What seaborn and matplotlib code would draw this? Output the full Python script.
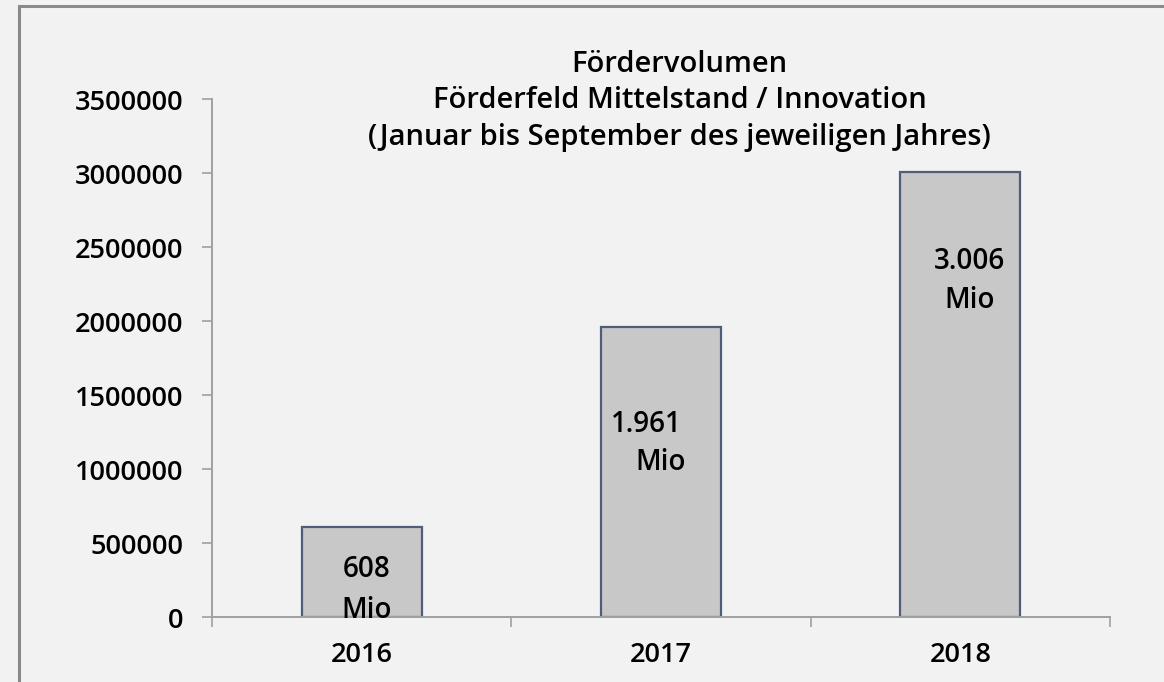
import pandas as pd
import matplotlib
matplotlib.use("Agg")
import matplotlib.pyplot as plt
import seaborn as sns
from matplotlib.patches import Rectangle
from matplotlib.ticker import FuncFormatter

# Data
years = ["2016", "2017", "2018"]
volumes = [608000, 1961000, 3006000]
y_ticks = [0, 500000, 1000000, 1500000, 2000000, 2500000, 3000000, 3500000]
title_lines = ["Fördervolumen",
               "Förderfeld Mittelstand / Innovation",
               "(Januar bis September des jeweiligen Jahres)"]

df = pd.DataFrame({"Jahr": years, "Volumen": volumes})

sns.set_style("ticks")
plt.rcParams["font.family"] = ["Open Sans", "DejaVu Sans"]
plt.rcParams["font.weight"] = "semibold"
plt.rcParams["text.color"] = "black"
plt.rcParams["xtick.labelcolor"] = "black"
plt.rcParams["ytick.labelcolor"] = "black"

bg = "#f2f2f2"
fig = plt.figure(figsize=(11.64, 6.82), dpi=100, facecolor=bg)
ax = fig.add_axes([0.1821, 0.0953, 0.7715, 0.7595])
ax.set_facecolor(bg)

sns.barplot(data=df, x="Jahr", y="Volumen", width=0.4, color="#c8c8c8",
            edgecolor="#4f5d78", linewidth=1.6, saturation=1, ax=ax)

ax.set_xlim(-0.5, 2.5)
ax.set_ylim(0, 3500000)
ax.set_yticks(y_ticks)
ax.yaxis.set_major_formatter(FuncFormatter(lambda v, p: f"{int(v)}"))
ax.set_xlabel("")
ax.set_ylabel("")

# category boundaries as minor ticks
ax.set_xticks([-0.5, 0.5, 1.5, 2.5], minor=True)
ax.tick_params(axis="x", which="major", bottom=True, length=0, pad=17, labelsize=19.5)
ax.tick_params(axis="x", which="minor", bottom=True, length=7.5, width=1.2, color="#a0a0a0")
ax.tick_params(axis="y", left=True, length=7.5, width=1.2, color="#a0a0a0", pad=13, labelsize=19.5)

for s in ["top", "right"]:
    ax.spines[s].set_visible(False)
for s in ["left", "bottom"]:
    ax.spines[s].set_color("#a0a0a0")
    ax.spines[s].set_linewidth(1.4)

# value labels inside bars (German thousands separator, in Mio)
label_pos = [
    [(0.015, 324000), (0.015, 47000)],
    [(0.95, 1304000), (1.0, 1047000)],
    [(2.03, 2405000), (2.03, 2142000)],
]
for v, pos in zip(volumes, label_pos):
    num = f"{v // 1000:,}".replace(",", ".")
    for txt, (x, y) in zip([num, "Mio"], pos):
        ax.text(x, y, txt, ha="center", va="center", fontsize=20, color="black")

fig.text(0.584, 0.852, "\n".join(title_lines), ha="center", va="center",
         fontsize=21, linespacing=1.36, color="black")

# outer frame
fig.patches.append(Rectangle((18.5 / 1164, -0.1), 1.2, 1.1 - 5.5 / 682,
                             transform=fig.transFigure, fill=False,
                             edgecolor="#8a8a8a", linewidth=2.2))

fig.savefig("out.png", dpi=100, facecolor=bg)
